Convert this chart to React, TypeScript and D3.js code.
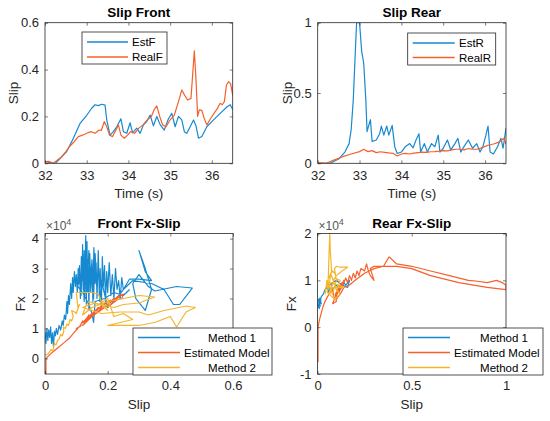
import { useEffect, useRef } from "react";
import * as d3 from "d3";

const BLUE = "#1689d0";
const ORANGE = "#f5602c";
const YELLOW = "#f4b52a";
const AXIS = "#262626";
const FONT = "'Liberation Sans', Arial, Helvetica, sans-serif";

// ── Slip Front (time in s, slip) ─────────────────────────────────────────
const timeEstF = [32.0, 32.08, 32.15, 32.25, 32.36, 32.52, 32.68, 32.84, 33.0, 33.12, 33.2, 33.28, 33.36, 33.44, 33.48, 33.56, 33.64, 33.72, 33.82, 33.88, 33.96, 34.04, 34.1, 34.2, 34.28, 34.36, 34.44, 34.52, 34.6, 34.68, 34.76, 34.86, 34.96, 35.04, 35.12, 35.2, 35.28, 35.34, 35.4, 35.48, 35.56, 35.62, 35.68, 35.76, 35.88, 36.04, 36.2, 36.36, 36.44, 36.5];
const estF = [0.007, 0.005, 0.0, 0.0, 0.02, 0.05, 0.107, 0.17, 0.205, 0.235, 0.25, 0.246, 0.252, 0.248, 0.185, 0.12, 0.135, 0.156, 0.19, 0.135, 0.128, 0.173, 0.13, 0.15, 0.128, 0.164, 0.178, 0.206, 0.16, 0.2, 0.165, 0.142, 0.19, 0.213, 0.156, 0.2, 0.185, 0.135, 0.128, 0.156, 0.185, 0.16, 0.107, 0.114, 0.156, 0.185, 0.213, 0.24, 0.25, 0.23];
const timeRealF = [32.0, 32.1, 32.2, 32.3, 32.4, 32.5, 32.6, 32.7, 32.8, 32.9, 33.0, 33.1, 33.2, 33.3, 33.35, 33.42, 33.48, 33.55, 33.62, 33.7, 33.76, 33.82, 33.9, 33.98, 34.05, 34.15, 34.25, 34.35, 34.45, 34.55, 34.62, 34.68, 34.75, 34.82, 34.9, 35.0, 35.1, 35.2, 35.28, 35.35, 35.42, 35.5, 35.58, 35.62, 35.66, 35.7, 35.76, 35.82, 35.88, 35.95, 36.05, 36.12, 36.2, 36.25, 36.3, 36.35, 36.4, 36.45, 36.5];
const realF = [0.007, 0.008, 0.0, 0.014, 0.028, 0.05, 0.074, 0.092, 0.114, 0.12, 0.128, 0.135, 0.128, 0.142, 0.14, 0.178, 0.156, 0.12, 0.114, 0.142, 0.164, 0.12, 0.107, 0.12, 0.135, 0.128, 0.15, 0.164, 0.185, 0.2, 0.23, 0.245, 0.2, 0.164, 0.156, 0.185, 0.206, 0.263, 0.313, 0.29, 0.27, 0.277, 0.48, 0.356, 0.2, 0.228, 0.226, 0.19, 0.164, 0.185, 0.213, 0.23, 0.256, 0.25, 0.263, 0.334, 0.348, 0.34, 0.29];

// ── Slip Rear ────────────────────────────────────────────────────────────
const timeEstR = [32.0, 32.3, 32.5, 32.65, 32.75, 32.8, 32.85, 32.9, 32.93, 33.0, 33.05, 33.1, 33.15, 33.18, 33.22, 33.26, 33.3, 33.4, 33.48, 33.52, 33.58, 33.65, 33.7, 33.78, 33.84, 33.9, 34.0, 34.1, 34.2, 34.28, 34.35, 34.42, 34.46, 34.55, 34.62, 34.72, 34.8, 34.88, 34.92, 35.0, 35.1, 35.18, 35.28, 35.35, 35.42, 35.5, 35.6, 35.7, 35.8, 35.88, 35.95, 36.02, 36.07, 36.12, 36.2, 36.3, 36.38, 36.43, 36.5];
const estR = [0.0, 0.0, 0.03, 0.08, 0.14, 0.24, 0.45, 0.8, 1.0, 1.0, 0.8, 0.71, 0.45, 0.225, 0.27, 0.31, 0.155, 0.166, 0.21, 0.265, 0.2, 0.265, 0.2, 0.27, 0.12, 0.07, 0.08, 0.12, 0.14, 0.11, 0.166, 0.21, 0.08, 0.14, 0.08, 0.14, 0.118, 0.2, 0.08, 0.107, 0.166, 0.095, 0.14, 0.178, 0.08, 0.12, 0.166, 0.107, 0.14, 0.08, 0.12, 0.2, 0.265, 0.08, 0.066, 0.12, 0.178, 0.107, 0.25];
const timeRealR = [32.0, 32.2, 32.4, 32.6, 32.8, 33.0, 33.1, 33.2, 33.3, 33.4, 33.5, 33.6, 33.7, 33.8, 33.9, 34.0, 34.1, 34.2, 34.3, 34.4, 34.5, 34.6, 34.7, 34.8, 34.9, 35.0, 35.1, 35.2, 35.3, 35.4, 35.5, 35.6, 35.7, 35.8, 35.9, 36.0, 36.1, 36.2, 36.3, 36.4, 36.45, 36.5];
const realR = [0.005, 0.0, 0.024, 0.047, 0.066, 0.083, 0.1, 0.083, 0.09, 0.076, 0.082, 0.078, 0.074, 0.071, 0.052, 0.066, 0.07, 0.066, 0.072, 0.076, 0.08, 0.078, 0.082, 0.083, 0.086, 0.09, 0.088, 0.095, 0.1, 0.1, 0.096, 0.105, 0.1, 0.1, 0.108, 0.12, 0.13, 0.137, 0.147, 0.166, 0.178, 0.137];

// ── Front Fx-Slip (Fx in ×10^4) ──────────────────────────────────────────
const slipFrontM1 = [
  0.0, 0.003, 0.006, 0.009, 0.012, 0.015, 0.018, 0.021, 0.024, 0.027, 0.03, 0.033, 0.036, 0.04, 0.045, 0.05, 0.055, 0.058, 0.062, 0.066, 0.07, 0.072, 0.075, 0.078, 0.082, 0.085, 0.088, 0.09, 0.094, 0.097, 0.1,
  0.103, 0.106, 0.108, 0.11, 0.113, 0.116, 0.118, 0.12, 0.122, 0.125, 0.127, 0.13, 0.132, 0.134, 0.136, 0.138, 0.14, 0.143, 0.146, 0.15, 0.153, 0.156, 0.16, 0.163, 0.166, 0.17, 0.173, 0.176, 0.18, 0.183, 0.186, 0.19, 0.193, 0.197, 0.2, 0.205, 0.21, 0.215, 0.22, 0.225, 0.23, 0.235, 0.24, 0.245, 0.25,
  0.27, 0.3, 0.34, 0.32, 0.3, 0.32, 0.34, 0.32, 0.29, 0.28, 0.3, 0.33, 0.35, 0.42, 0.47, 0.43, 0.41, 0.38, 0.34, 0.28, 0.25, 0.22, 0.2,
  0.18, 0.175, 0.17, 0.165, 0.16, 0.155, 0.15, 0.145, 0.14, 0.135, 0.13, 0.125, 0.12, 0.115, 0.11, 0.105, 0.12, 0.14, 0.15, 0.155, 0.16, 0.19, 0.22, 0.25, 0.27,
];
const fxFrontM1 = [
  0.9, 0.5, 1.0, 0.6, 0.95, 0.7, 1.05, 0.5, 0.85, 0.4, 0.9, 0.75, 1.0, 0.8, 1.1, 0.95, 1.25, 1.1, 1.45, 1.3, 1.9, 1.5, 2.1, 1.8, 2.5, 2.0, 2.7, 2.2, 2.9, 2.4, 2.8,
  2.2, 3.0, 2.5, 3.1, 2.0, 3.4, 2.6, 3.8, 2.3, 3.6, 2.1, 4.1, 1.8, 3.9, 2.4, 3.3, 1.6, 3.5, 2.2, 3.0, 1.9, 3.7, 2.5, 3.2, 2.0, 3.6, 2.2, 3.0, 1.7, 3.4, 2.4, 3.1, 1.9, 2.9, 2.2, 3.2, 2.1, 2.8, 2.0, 3.0, 2.3, 2.6, 2.0, 2.7, 2.3,
  2.65, 2.65, 2.6, 2.9, 3.6, 3.0, 2.3, 1.6, 2.0, 2.5, 2.8, 2.4, 2.25, 2.4, 2.35, 1.8, 1.8, 2.3, 2.5, 2.6, 2.3, 1.9, 1.7,
  2.6, 1.9, 3.1, 2.4, 3.5, 2.0, 3.3, 2.6, 3.6, 2.2, 3.0, 1.9, 3.3, 2.1, 2.9, 2.4, 2.2, 1.8, 1.5, 1.2, 1.9, 2.0, 2.2, 2.1, 2.3,
];
const slipFrontModel = [0.003, 0.003, 0.02, 0.04, 0.06, 0.08, 0.1, 0.105, 0.1, 0.115, 0.11, 0.12, 0.115, 0.13, 0.125, 0.14, 0.13, 0.15, 0.145, 0.16, 0.15, 0.17, 0.165, 0.18, 0.175, 0.19, 0.185, 0.2, 0.21, 0.205, 0.22, 0.215, 0.23, 0.24, 0.25, 0.245, 0.23, 0.21, 0.19, 0.17, 0.15, 0.13, 0.12, 0.14, 0.16, 0.18, 0.2, 0.22, 0.24];
const fxFrontModel = [-0.52, 0.0, 0.17, 0.35, 0.52, 0.7, 0.95, 1.0, 1.0, 1.1, 1.05, 1.25, 1.15, 1.3, 1.2, 1.45, 1.3, 1.5, 1.4, 1.6, 1.45, 1.7, 1.6, 1.75, 1.65, 1.85, 1.75, 1.9, 1.95, 1.85, 2.0, 1.9, 2.05, 2.1, 2.15, 2.0, 1.95, 1.8, 1.7, 1.55, 1.4, 1.2, 1.1, 1.35, 1.5, 1.65, 1.8, 1.95, 2.05];
const slipFrontM2 = [0.0, 0.01, 0.02, 0.025, 0.03, 0.035, 0.04, 0.045, 0.05, 0.055, 0.06, 0.058, 0.065, 0.07, 0.075, 0.08, 0.085, 0.09, 0.085, 0.095, 0.1, 0.11, 0.105, 0.1, 0.13, 0.15, 0.17, 0.18, 0.2, 0.18, 0.22, 0.25, 0.3, 0.35, 0.3, 0.25, 0.2, 0.15, 0.12, 0.13, 0.14, 0.17, 0.2, 0.21, 0.22, 0.25, 0.28, 0.24, 0.2, 0.3, 0.35, 0.4, 0.42, 0.45, 0.48, 0.45, 0.38, 0.33, 0.3, 0.24, 0.18, 0.15, 0.12, 0.16, 0.19];
const fxFrontM2 = [0.1, 0.15, 0.3, 0.25, 0.5, 0.45, 0.6, 0.65, 0.8, 0.75, 0.9, 1.05, 1.0, 1.15, 1.1, 1.3, 1.25, 1.4, 1.6, 1.55, 1.5, 1.8, 1.7, 2.2, 2.2, 2.2, 2.15, 1.9, 1.6, 1.8, 1.7, 1.8, 1.85, 2.05, 2.1, 2.0, 1.9, 1.7, 1.45, 1.75, 1.9, 1.8, 2.0, 1.7, 1.4, 1.5, 1.3, 1.2, 1.1, 1.1, 1.2, 1.4, 1.05, 1.55, 1.7, 1.75, 1.6, 1.45, 1.55, 1.55, 1.5, 1.6, 1.7, 1.85, 1.75];

// ── Rear Fx-Slip (Fx in ×10^4) ───────────────────────────────────────────
const slipRearM1 = [0.0, 0.01, 0.005, 0.015, 0.008, 0.02, 0.012, 0.004, 0.018, 0.01, 0.02, 0.03, 0.04, 0.05, 0.06, 0.065, 0.08, 0.07, 0.09, 0.1, 0.12, 0.14, 0.15, 0.17, 0.16, 0.13, 0.1, 0.06];
const fxRearM1 = [0.5, 0.4, 0.6, 0.45, 0.55, 0.5, 0.62, 0.42, 0.58, 0.48, 0.65, 0.7, 0.8, 0.85, 0.75, 0.9, 0.95, 0.8, 0.85, 0.9, 0.8, 0.95, 0.9, 1.0, 0.85, 0.9, 1.0, 0.9];
const slipRearModel = [0.003, 0.003, 0.01, 0.02, 0.03, 0.04, 0.06, 0.08, 0.09, 0.08, 0.1, 0.095, 0.11, 0.1, 0.12, 0.115, 0.13, 0.12, 0.14, 0.13, 0.15, 0.16, 0.17, 0.18, 0.19, 0.2, 0.21, 0.22, 0.23, 0.25, 0.26, 0.27, 0.28, 0.3, 0.28, 0.3, 0.35, 0.38, 0.42, 0.5, 0.6, 0.7, 0.8, 0.85, 0.9, 0.95, 0.98, 1.0, 1.0, 0.9, 0.75, 0.6, 0.5, 0.42, 0.35, 0.3, 0.25, 0.2, 0.17, 0.14, 0.12, 0.1];
const fxRearModel = [-0.75, 0.0, 0.15, 0.3, 0.45, 0.55, 0.7, 0.8, 0.6, 0.5, 0.55, 0.7, 0.85, 0.65, 0.9, 0.75, 0.95, 0.8, 1.0, 0.85, 1.05, 0.95, 1.1, 1.0, 1.15, 1.05, 1.2, 1.1, 1.25, 1.2, 1.35, 1.2, 1.1, 1.0, 1.25, 1.3, 1.3, 1.5, 1.35, 1.3, 1.2, 1.1, 1.0, 0.98, 0.95, 1.0, 0.95, 0.9, 0.8, 0.85, 0.95, 1.1, 1.25, 1.3, 1.3, 1.25, 1.15, 1.0, 0.9, 0.85, 0.7, 0.6];
const slipRearM2 = [0.04, 0.05, 0.055, 0.06, 0.065, 0.068, 0.07, 0.075, 0.06, 0.08, 0.1, 0.09, 0.1, 0.12, 0.16, 0.13, 0.1, 0.08, 0.06, 0.07, 0.1, 0.12, 0.09, 0.05, 0.07, 0.11, 0.14, 0.08, 0.06, 0.09, 0.12, 0.1];
const fxRearM2 = [0.7, 1.0, 0.8, 1.4, 2.0, 1.6, 1.5, 1.2, 0.9, 0.7, 1.0, 1.25, 1.3, 1.28, 1.28, 1.2, 1.1, 1.2, 1.05, 1.15, 0.8, 0.7, 0.6, 0.75, 0.95, 0.9, 0.85, 0.85, 0.7, 1.05, 1.0, 0.75];

const timeTicks = [32, 33, 34, 35, 36];

interface SeriesDef { xs: number[]; ys: number[]; color: string; label: string }
interface PanelDef {
  title: string; xLabel: string; yLabel: string;
  left: number; right: number; top: number; bottom: number;
  xDomain: [number, number]; yDomain: [number, number];
  xTicks: number[]; yTicks: number[];
  yLabelX: number; exponent?: boolean;
  series: SeriesDef[];
  legend: { x: number; y: number; w: number; h: number; line: number; rows: number[]; textX: number[]; anchor: string[] };
}

const panels: PanelDef[] = [
  {
    title: "Slip Front", xLabel: "Time (s)", yLabel: "Slip",
    left: 45, right: 232.7, top: 22.7, bottom: 163.3,
    xDomain: [32, 36.5], yDomain: [0, 0.6], xTicks: timeTicks, yTicks: [0, 0.2, 0.4, 0.6],
    yLabelX: 13,
    series: [
      { xs: timeEstF, ys: estF, color: BLUE, label: "EstF" },
      { xs: timeRealF, ys: realF, color: ORANGE, label: "RealF" },
    ],
    legend: { x: 82, y: 32, w: 85, h: 32, line: 41, rows: [42, 57], textX: [132, 132], anchor: ["start", "start"] },
  },
  {
    title: "Slip Rear", xLabel: "Time (s)", yLabel: "Slip",
    left: 317.7, right: 506, top: 22.7, bottom: 163.3,
    xDomain: [32, 36.5], yDomain: [0, 1], xTicks: timeTicks, yTicks: [0, 0.5, 1],
    yLabelX: 287,
    series: [
      { xs: timeEstR, ys: estR, color: BLUE, label: "EstR" },
      { xs: timeRealR, ys: realR, color: ORANGE, label: "RealR" },
    ],
    legend: { x: 407.7, y: 33, w: 88, h: 32, line: 42, rows: [43, 57.5], textX: [459, 459], anchor: ["start", "start"] },
  },
  {
    title: "Front Fx-Slip", xLabel: "Slip", yLabel: "Fx",
    left: 45, right: 233, top: 233.5, bottom: 374,
    xDomain: [0, 0.6], yDomain: [-0.52, 4.17], xTicks: [0, 0.2, 0.4, 0.6], yTicks: [0, 1, 2, 3, 4],
    yLabelX: 20, exponent: true,
    series: [
      { xs: slipFrontM1, ys: fxFrontM1, color: BLUE, label: "Method 1" },
      { xs: slipFrontModel, ys: fxFrontModel, color: ORANGE, label: "Estimated Model" },
      { xs: slipFrontM2, ys: fxFrontM2, color: YELLOW, label: "Method 2" },
    ],
    legend: { x: 133, y: 328, w: 139, h: 47, line: 42, rows: [337.5, 352.5, 367.5], textX: [256, 184, 256], anchor: ["end", "start", "end"] },
  },
  {
    title: "Rear Fx-Slip", xLabel: "Slip", yLabel: "Fx",
    left: 317.5, right: 506, top: 233.5, bottom: 374,
    xDomain: [0, 1], yDomain: [-1, 2], xTicks: [0, 0.5, 1], yTicks: [-1, 0, 1, 2],
    yLabelX: 291, exponent: true,
    series: [
      { xs: slipRearM1, ys: fxRearM1, color: BLUE, label: "Method 1" },
      { xs: slipRearModel, ys: fxRearModel, color: ORANGE, label: "Estimated Model" },
      { xs: slipRearM2, ys: fxRearM2, color: YELLOW, label: "Method 2" },
    ],
    legend: { x: 403, y: 328, w: 140, h: 47, line: 42, rows: [337.5, 352.5, 367.5], textX: [528, 454, 528], anchor: ["end", "start", "end"] },
  },
];

function drawPanel(svg: d3.Selection<SVGSVGElement, unknown, null, undefined>, p: PanelDef, idx: number) {
  const x = d3.scaleLinear().domain(p.xDomain).range([p.left, p.right]);
  const y = d3.scaleLinear().domain(p.yDomain).range([p.bottom, p.top]);
  const g = svg.append("g");

  const clipId = `clip-${idx}`;
  g.append("clipPath").attr("id", clipId).append("rect")
    .attr("x", p.left).attr("y", p.top)
    .attr("width", p.right - p.left).attr("height", p.bottom - p.top);

  const line = d3.line<[number, number]>().x((d) => x(d[0])).y((d) => y(d[1]));
  const plot = g.append("g").attr("clip-path", `url(#${clipId})`);
  p.series.forEach((s) => {
    plot.append("path")
      .datum(d3.zip(s.xs, s.ys) as [number, number][])
      .attr("fill", "none")
      .attr("stroke", s.color)
      .attr("stroke-width", 1.2)
      .attr("stroke-linejoin", "round")
      .attr("d", line);
  });

  const fmt = (d: d3.NumberValue) => String(+d);
  const styleAxis = (ax: d3.Selection<SVGGElement, unknown, null, undefined>) => {
    ax.select(".domain").remove();
    ax.selectAll(".tick line").attr("stroke", AXIS).attr("stroke-width", 0.6);
    ax.selectAll("text").attr("fill", AXIS).attr("font-size", 13).attr("font-family", FONT);
  };

  g.append("g").attr("transform", `translate(0,${p.bottom})`)
    .call(d3.axisBottom(x).tickValues(p.xTicks).tickSizeInner(-3).tickSizeOuter(0).tickPadding(7).tickFormat(fmt))
    .call(styleAxis);
  g.append("g").attr("transform", `translate(0,${p.top})`)
    .call(d3.axisTop(x).tickValues(p.xTicks).tickSizeInner(-3).tickSizeOuter(0).tickFormat(() => ""))
    .call(styleAxis);
  g.append("g").attr("transform", `translate(${p.left},0)`)
    .call(d3.axisLeft(y).tickValues(p.yTicks).tickSizeInner(-3).tickSizeOuter(0).tickPadding(6).tickFormat(fmt))
    .call(styleAxis);
  g.append("g").attr("transform", `translate(${p.right},0)`)
    .call(d3.axisRight(y).tickValues(p.yTicks).tickSizeInner(-3).tickSizeOuter(0).tickFormat(() => ""))
    .call(styleAxis);

  g.append("rect")
    .attr("x", p.left).attr("y", p.top)
    .attr("width", p.right - p.left).attr("height", p.bottom - p.top)
    .attr("fill", "none").attr("stroke", AXIS).attr("stroke-width", 0.8);

  const midX = (p.left + p.right) / 2;
  g.append("text")
    .attr("x", midX).attr("y", p.top - 5.5)
    .attr("text-anchor", "middle").attr("font-weight", "bold")
    .attr("font-size", 13.5).attr("font-family", FONT).attr("fill", "#000")
    .text(p.title);

  g.append("text")
    .attr("x", midX).attr("y", p.bottom + 35)
    .attr("text-anchor", "middle")
    .attr("font-size", 13.5).attr("font-family", FONT).attr("fill", AXIS)
    .text(p.xLabel);

  g.append("text")
    .attr("transform", `translate(${p.yLabelX},${(p.top + p.bottom) / 2}) rotate(-90)`)
    .attr("dy", "0.35em")
    .attr("text-anchor", "middle")
    .attr("font-size", 13.5).attr("font-family", FONT).attr("fill", AXIS)
    .text(p.yLabel);

  if (p.exponent) {
    const t = g.append("text")
      .attr("x", p.left + 1).attr("y", p.top - 4)
      .attr("font-size", 12).attr("font-family", FONT).attr("fill", "#555");
    t.append("tspan").text("×10");
    t.append("tspan").attr("dy", -5).attr("font-size", 9).text("4");
  }

  // ── Legend ────────────────────────────────────────────────────────────
  const L = p.legend;
  g.append("rect")
    .attr("x", L.x).attr("y", L.y).attr("width", L.w).attr("height", L.h)
    .attr("fill", "#fff").attr("stroke", AXIS).attr("stroke-width", 0.8);
  p.series.forEach((s, i) => {
    g.append("line")
      .attr("x1", L.x + 5).attr("x2", L.x + 5 + L.line)
      .attr("y1", L.rows[i]).attr("y2", L.rows[i])
      .attr("stroke", s.color).attr("stroke-width", 1.4);
    g.append("text")
      .attr("x", L.textX[i]).attr("y", L.rows[i]).attr("dy", "0.35em")
      .attr("text-anchor", L.anchor[i])
      .attr("font-size", 11.5).attr("font-family", FONT).attr("fill", "#000")
      .text(s.label);
  });
}

export default function App() {
  const svgRef = useRef<SVGSVGElement>(null);

  useEffect(() => {
    if (!svgRef.current) return;
    const svg = d3.select(svgRef.current);
    svg.selectAll("*").remove();
    panels.forEach((p, i) => drawPanel(svg, p, i));
  }, []);

  return (
    <svg
      ref={svgRef}
      width={550}
      height={421}
      style={{ position: "absolute", left: 0, top: 0, background: "#fff" }}
    />
  );
}
